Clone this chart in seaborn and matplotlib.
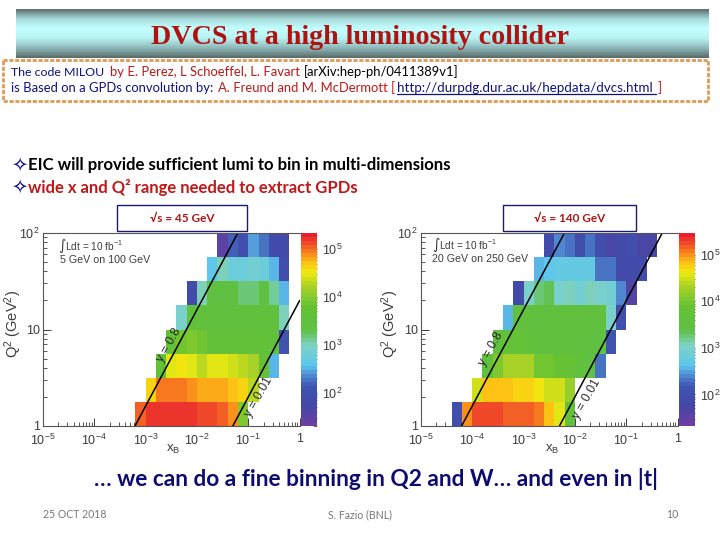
import numpy as np
import matplotlib
matplotlib.use("Agg")
import matplotlib.pyplot as plt
from matplotlib.colors import LinearSegmentedColormap, LogNorm
from matplotlib.patches import Rectangle
import seaborn as sns

sns.set_style("white")
plt.rcParams['font.family'] = ['Lato', 'DejaVu Sans']
plt.rcParams['mathtext.default'] = 'regular'

# log10(events per bin), rows from Q2 = 100 down to Q2 = 1
left_starts = [17, 16, 14, 13, 12, 11, 10, 9]
left_rows = [
    [1.5, 2.2, 1.9, 2.45, 2.25, 1.85, 1.85],
    [2.6, 3.0, 2.75, 2.75, 2.9, 2.75, 2.55, 1.9],
    [1.85, 3.0, 3.4, 3.4, 3.4, 3.2, 3.2, 3.35, 3.1, 2.5],
    [2.95, 3.5, 3.5, 3.5, 3.5, 3.5, 3.5, 3.5, 3.5, 3.5, 3.0],
    [3.7, 3.85, 3.95, 3.85, 3.65, 3.65, 3.65, 3.65, 3.65, 3.6, 3.55, 2.1],
    [3.6, 4.5, 4.55, 4.5, 4.25, 4.45, 4.45, 4.35, 4.25, 4.2, 3.8, 2.55],
    [4.6, 5.0, 5.0, 4.95, 4.85, 4.8, 4.8, 4.8, 4.7, 4.62, 4.3],
    [5.05, 5.22, 5.25, 5.25, 5.25, 5.2, 5.1, 5.1, 5.05, 4.85, 3.95],
]
right_starts = [12, 11, 9, 8, 7, 6, 5, 3]
right_rows = [
    [1.9, 2.4, 2.3, 2.0, 2.3, 2.0, 1.75, 1.9, 1.95, 1.75, 1.75],
    [2.55, 2.7, 2.75, 2.75, 2.75, 2.72, 2.35, 2.35, 1.9, 1.9, 1.85],
    [1.85, 3.05, 3.3, 3.35, 3.05, 3.1, 2.95, 3.1, 3.0, 2.95, 2.4, 1.6],
    [2.55, 3.55, 3.55, 3.55, 3.55, 3.55, 3.55, 3.55, 3.55, 3.55, 3.05, 1.95],
    [3.65, 3.7, 3.75, 3.7, 3.6, 3.55, 3.5, 3.5, 3.5, 3.45, 3.4, 2.1],
    [3.5, 4.05, 4.3, 4.3, 4.3, 3.95, 3.95, 3.85, 3.8, 3.65, 3.45, 2.3],
    [4.5, 4.85, 4.85, 4.85, 4.75, 4.72, 4.65, 4.5, 4.5, 4.2],
    [2.0, 5.0, 5.25, 5.25, 5.25, 5.2, 5.15, 5.15, 5.05, 4.85, 4.6, 3.6],
]

x_decades = [-5, -4, -3, -2, -1, 0]
x_labels = ['$10^{-5}$', '$10^{-4}$', '$10^{-3}$', '$10^{-2}$', '$10^{-1}$', '1']
q2_ticks = [1, 10, 100]
q2_labels = ['1', '10', '$10^{2}$']

# kinematic limits: x at the two ends of each y line
left_y08_x = [6.25e-4, 0.0625]
left_y08_q2 = [1, 100]
left_y001_x = [0.05, 1.0]
left_y001_q2 = [1, 20]
right_y08_x = [6.25e-5, 0.00625]
right_y08_q2 = [1, 100]
right_y001_x = [0.005, 0.5]
right_y001_q2 = [1, 100]

root_cmap = LinearSegmentedColormap.from_list('root', [
    (0.00, '#6c3fa2'), (0.10, '#4347a6'), (0.20, '#3f55b0'), (0.26, '#4f8ad2'),
    (0.31, '#5cc6ee'), (0.42, '#7fd2c4'), (0.50, '#5fc044'), (0.62, '#66c233'),
    (0.72, '#a4d028'), (0.80, '#eeea10'), (0.85, '#fdc414'), (0.90, '#f88a1c'),
    (0.95, '#f0502a'), (1.00, '#e8202c')], N=48)

GREY = '#3c3c3c'
W, H = 720, 540


def make_grid(starts, rows):
    grid = np.full((8, 25), np.nan)
    for i, (s, r) in enumerate(zip(starts, rows)):
        grid[i, s:s + len(r)] = np.power(10.0, r)
    return grid


def xcell(x):
    return (np.log10(x) + 5) / 0.2


def ycell(q2):
    return 8 - np.log10(q2) / 0.25


def to_axes(px, py, pw, ph):
    return [px / W, 1 - (py + ph) / H, pw / W, ph / H]


def draw_panel(fig, x0, grid, vmin, vmax, lines):
    ax = fig.add_axes(to_axes(x0, 233, 257, 193))
    cax = fig.add_axes(to_axes(x0 + 258.5, 233, 15.7, 193))
    sns.heatmap(grid, ax=ax, cbar_ax=cax, cmap=root_cmap, norm=LogNorm(vmin, vmax),
                xticklabels=False, yticklabels=False)
    for (xs, qs) in lines:
        ax.plot(xcell(np.array(xs)), ycell(np.array(qs)), color='black', lw=1.1)

    ax.set_xticks(xcell(10.0 ** np.array(x_decades)))
    ax.set_xticklabels(x_labels, fontsize=9, color=GREY, family='Liberation Sans')
    ax.set_yticks(ycell(np.array(q2_ticks, dtype=float)))
    ax.set_yticklabels(q2_labels, fontsize=9, color=GREY, family='Liberation Sans')
    minor_x = [xcell(k * 10.0 ** d) for d in x_decades[:-1] for k in range(2, 10)]
    minor_y = [ycell(k * 10.0 ** d) for d in [0, 1] for k in range(2, 10)]
    ax.set_xticks(minor_x, minor=True)
    ax.set_yticks(minor_y, minor=True)
    ax.tick_params(which='major', direction='in', length=6, width=0.7, color=GREY,
                   bottom=True, left=True, pad=2)
    ax.tick_params(axis='x', which='major', pad=5)
    ax.tick_params(which='minor', direction='in', length=3, width=0.6, color=GREY,
                   bottom=True, left=True)
    for side in ax.spines:
        ax.spines[side].set_visible(side != 'right')
        ax.spines[side].set_color('#555555')
        ax.spines[side].set_linewidth(0.8)

    cax.tick_params(which='major', direction='in', length=6, width=0.7, color='#333333',
                    right=True, labelsize=9, labelcolor=GREY, pad=4)
    cax.tick_params(which='minor', direction='in', length=3, width=0.5, color='#333333',
                    right=True)
    for lab in cax.get_yticklabels():
        lab.set_family('Liberation Sans')


fig = plt.figure(figsize=(7.2, 5.4), dpi=100, facecolor='white')

draw_panel(fig, 42.7, make_grid(left_starts, left_rows), 20, 2.2e5,
           [(left_y08_x, left_y08_q2), (left_y001_x, left_y001_q2)])
draw_panel(fig, 420.7, make_grid(right_starts, right_rows), 21, 2.95e5,
           [(right_y08_x, right_y08_q2), (right_y001_x, right_y001_q2)])

# everything else sits on a transparent overlay in pixel coordinates
bg = fig.add_axes([0, 0, 1, 1], facecolor='none')
bg.set_xlim(0, W)
bg.set_ylim(H, 0)
bg.axis('off')

band = LinearSegmentedColormap.from_list('band', ['#5f6f70', '#a8dedd', '#c4ffff', '#b8f2f2', '#8fb8b8', '#5a6a6a'])
bg.imshow(np.linspace(0, 1, 64).reshape(-1, 1), extent=(16, 709, 58, 9), cmap=band, aspect='auto')
bg.set_xlim(0, W)
bg.set_ylim(H, 0)
bg.text(360, 37, 'DVCS at a high luminosity collider', family='Liberation Serif', weight='bold',
        fontsize=20.2, color='#b01212', ha='center', va='center')

bg.add_patch(Rectangle((3, 60), 705, 41, facecolor='white', edgecolor='#e09a55', lw=2, ls=(0, (1.5, 0.6))))

NAVY = '#101080'
RED = '#c01818'
FS = 9.4
for px, py, s, c, fs in [(11, 72, 'The code MILOU', NAVY, 8.9),
                         (110, 72, 'by E. Perez, L Schoeffel, L. Favart', RED, FS),
                         (304, 72, '[arXiv:hep-ph/0411389v1]', 'black', FS),
                         (11, 88, 'is Based on a GPDs convolution by:', NAVY, FS),
                         (217.5, 88, 'A. Freund and M. McDermott [', RED, FS),
                         (397, 88, 'http://durpdg.dur.ac.uk/hepdata/dvcs.html', NAVY, 9.6),
                         (657.5, 88, ']', RED, FS)]:
    bg.text(px, py, s, color=c, fontsize=fs, va='center')
bg.plot([397, 656], [94, 94], color=NAVY, lw=0.9)

bg.text(11, 165, '\u2727', color=NAVY, fontsize=14, va='center', family='DejaVu Sans')
bg.text(28, 165, 'EIC will provide sufficient lumi to bin in multi-dimensions', color='black',
        fontsize=12.1, weight='bold', va='center')
bg.text(11, 187, '\u2727', color=NAVY, fontsize=14, va='center', family='DejaVu Sans')
bg.text(28, 187, 'wide x and Q\u00b2 range needed to extract GPDs', color=RED,
        fontsize=12, weight='bold', va='center')

for bx, bw, s in [(117, 130, '\u221as = 45 GeV'), (503, 133, '\u221as = 140 GeV')]:
    bg.add_patch(Rectangle((bx, 205), bw, 26, facecolor='white', edgecolor='#1a1a70', lw=1))
    bg.text(bx + bw / 2, 218, s, color='#a81818', fontsize=8.5, weight='bold', ha='center', va='center')

for x0, x1, y0, xl, beam in [(58, 60, 246, 13, '5 GeV on 100 GeV'), (432, 432, 244.5, 390, '20 GeV on 250 GeV')]:
    bg.text(x0, y0, '\u222bLdt = 10 fb$^{-1}$', fontsize=7.2, color=GREY, family='Liberation Sans', va='center')
    bg.text(x1, y0 + 14, beam, fontsize=7.7, color=GREY, family='Liberation Sans', va='center')
    bg.text(xl, 324, 'Q$^{2}$ (GeV$^{2}$)', fontsize=10.5, color=GREY, family='Liberation Sans',
            rotation=90, ha='center', va='center')
for px, s in [(173, 'x$_{B}$'), (552, 'x$_{B}$')]:
    bg.text(px, 449, s, fontsize=9.5, color=GREY, family='Liberation Sans', ha='center', va='center')

for px, py, s in [(169, 345, 'y = 0.8'), (259, 397, 'y = 0.01'), (491, 349, 'y = 0.8'), (587, 399, 'y = 0.01')]:
    bg.text(px, py, s, fontsize=8.8, color='#2a2a2a', family='Liberation Sans', rotation=60,
            ha='center', va='center', rotation_mode='anchor')

bg.text(376, 479, '\u2026 we can do a fine binning in Q2 and W\u2026 and even in |t|', color='#0c0c70',
        fontsize=16.3, weight='bold', ha='center', va='center')
for px, s, ha in [(43, '25 OCT 2018', 'left'), (360, 'S. Fazio (BNL)', 'center'), (678, '10', 'right')]:
    bg.text(px, 515, s, color='#777777', fontsize=7.6, ha=ha, va='center')

fig.savefig('out.png', dpi=100)
